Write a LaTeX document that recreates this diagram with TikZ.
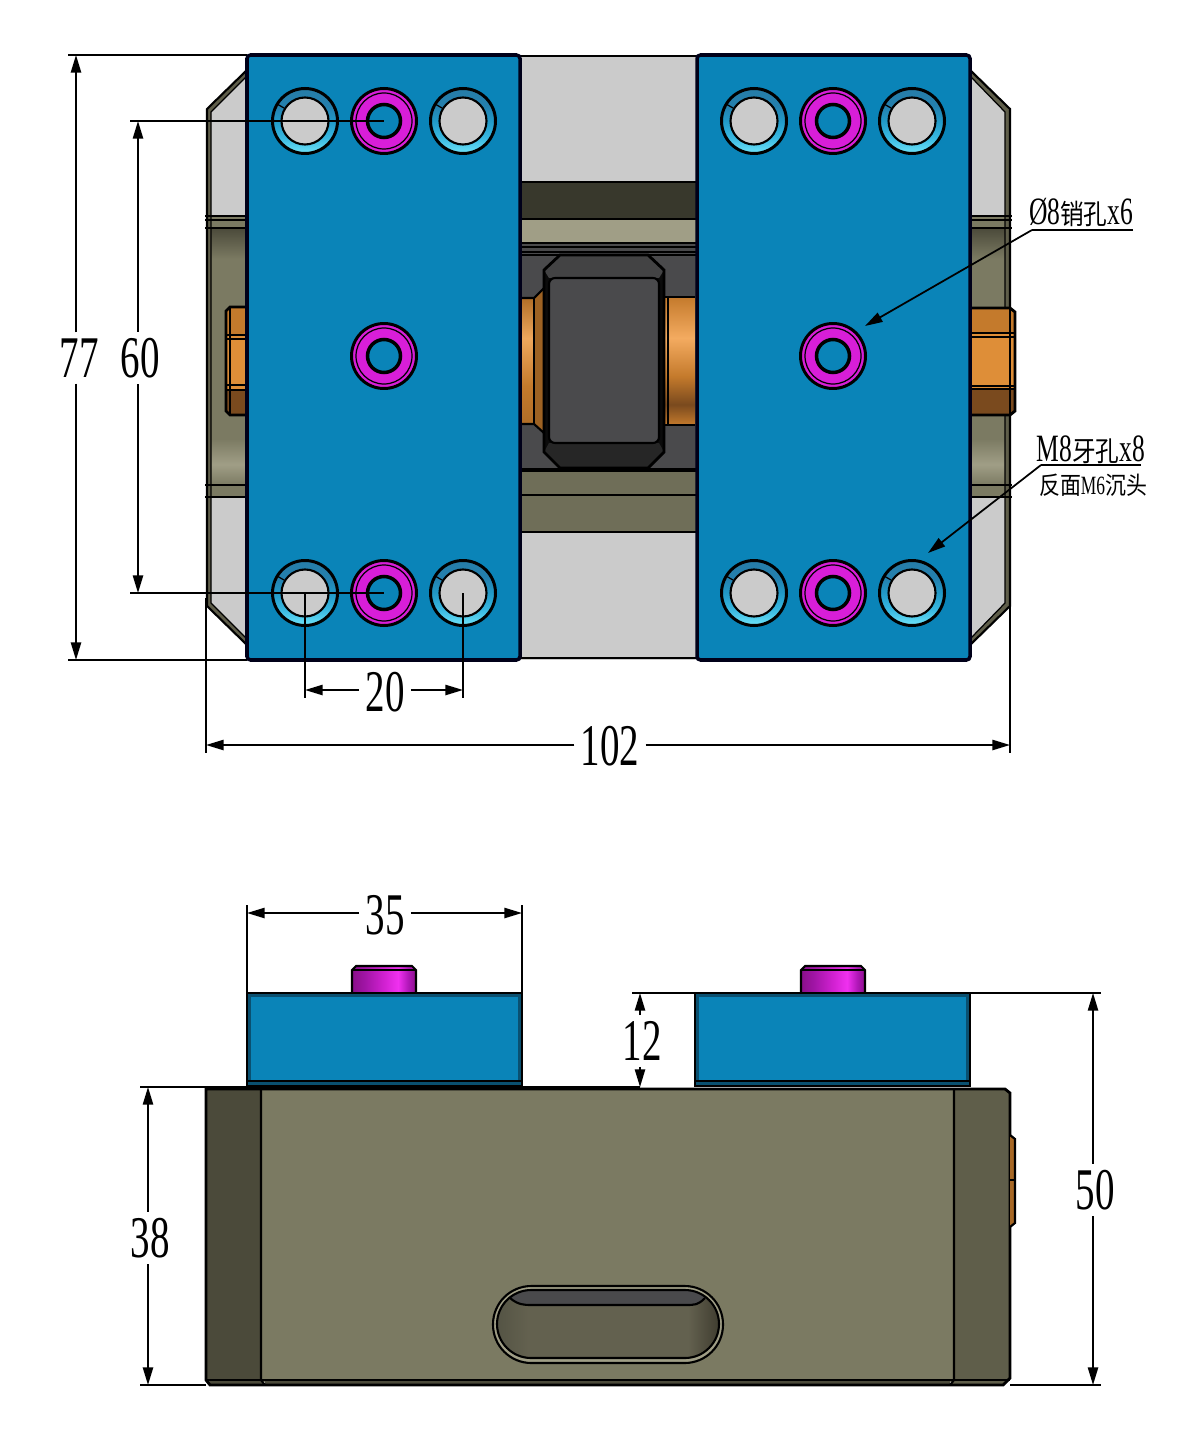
\documentclass[tikz,border=0pt]{standalone}
\usepackage{fontspec}
\setmainfont[FakeStretch=0.66]{Liberation Serif}
\newfontfamily\cjk[FakeStretch=0.85]{Noto Sans CJK SC}
\usetikzlibrary{arrows.meta,calc}
\definecolor{plateblue}{HTML}{0A84B8}
\definecolor{platedark}{HTML}{0A5070}
\definecolor{steelgray}{HTML}{CBCBCB}
\definecolor{olive}{HTML}{7B7A62}
\definecolor{olivedark}{HTML}{4B4A3A}
\definecolor{oliveside}{HTML}{5F5E4A}
\definecolor{olivestrip}{HTML}{A09E86}
\definecolor{pinmag}{HTML}{D81ED8}
\definecolor{blockgray}{HTML}{4A4A4C}
\definecolor{copperlow}{HTML}{7A4A1E}
\definecolor{coppermid}{HTML}{C47A2C}
\definecolor{copperhigh}{HTML}{DE8E38}
\pgfdeclareverticalshading{shaftright}{100bp}{
  color(0bp)=(coppermid);color(25bp)=(coppermid);color(33bp)=(copperlow);color(44bp)=(coppermid);
  color(59bp)=(orange!50!copperhigh!70!white);color(75bp)=(coppermid);color(100bp)=(coppermid)}
\pgfdeclareverticalshading{shaftleft}{100bp}{
  color(0bp)=(coppermid!90!black);color(25bp)=(coppermid!90!black);color(40bp)=(coppermid);
  color(59bp)=(orange!30!copperhigh!75!white);color(75bp)=(coppermid!90!black);color(100bp)=(coppermid!90!black)}
\pgfdeclareverticalshading{ringcol}{100bp}{
  rgb(0bp)=(0.42,0.88,0.97);rgb(25bp)=(0.42,0.88,0.97);rgb(37bp)=(0.22,0.72,0.88);
  rgb(50bp)=(0.13,0.60,0.78);rgb(62bp)=(0.14,0.50,0.68);rgb(75bp)=(0.15,0.49,0.66);rgb(100bp)=(0.15,0.49,0.66)}
\pgfdeclareverticalshading{bandcol}{100bp}{
  color(0bp)=(olive);color(25bp)=(olive);color(29bp)=(olivestrip);color(34bp)=(olive);color(69bp)=(olive);
  color(75bp)=(olivedark);color(100bp)=(olivedark)}
\pgfdeclarehorizontalshading{pincol}{100bp}{
  rgb(0bp)=(0.54,0.06,0.54);rgb(25bp)=(0.54,0.06,0.54);rgb(35bp)=(0.63,0.08,0.65);rgb(50bp)=(0.82,0.13,0.82);
  rgb(61bp)=(0.94,0.19,0.94);rgb(69bp)=(0.69,0.09,0.72);rgb(75bp)=(0.54,0.06,0.54);rgb(100bp)=(0.54,0.06,0.54)}
\pgfdeclarehorizontalshading{slotcol}{100bp}{
  rgb(0bp)=(0.33,0.33,0.27);rgb(25bp)=(0.33,0.33,0.27);rgb(32bp)=(0.39,0.38,0.31);rgb(68bp)=(0.39,0.38,0.31);
  rgb(75bp)=(0.25,0.24,0.19);rgb(100bp)=(0.25,0.24,0.19)}
\tikzset{
  edge/.style={draw=black,line width=0.6pt},
  thinedge/.style={draw=black,line width=0.35pt},
  plate/.style={fill=plateblue,draw=black!90!blue,line width=1pt,rounded corners=1pt},
  dimline/.style={draw=black,line width=0.5pt},
  dimarrow/.style={dimline,-{Triangle[length=5pt,width=2.9pt]}},
  dimtext/.style={font=\fontsize{16.8}{18}\selectfont,inner sep=1.6pt},
  notetext/.style={font=\fontsize{11}{12}\selectfont,inner sep=0pt},
  smalltext/.style={font=\fontsize{7.5}{9}\selectfont,inner sep=0pt}
}
\newcommand{\cnbig}[1]{{\fontsize{7.9}{9}\cjk #1}}
\newcommand{\cnsmall}[1]{{\fontsize{7}{9}\cjk #1}}
\newcommand{\greyhole}[2]{
  \fill[fill=plateblue] (#1,#2) circle (34);
  \shade[shading=ringcol] (#1,#2) circle (31.5);
  \draw[edge,line width=0.85pt] (#1,#2) circle (32.5);
  \fill[steelgray] (#1,#2) circle (23);
  \draw[edge] (#1,#2) circle (23.5);
  \draw[thinedge] ($(#1,#2)+(-21,-13)$) -- ($(#1,#2)+(-28,-17)$);
}
\newcommand{\pinhole}[2]{
  \fill[pinmag] (#1,#2) circle (32);
  \draw[edge,line width=0.85pt] (#1,#2) circle (32.5);
  \draw[thinedge] (#1,#2) circle (28);
  \fill[plateblue] (#1,#2) circle (16);
  \draw[edge,line width=1pt] (#1,#2) circle (16.5);
}
\begin{document}
\begin{tikzpicture}[x=0.01cm,y=-0.01cm]
\useasboundingbox (0,0) rectangle (1185,1446);
% top view, base
\fill[steelgray] (247,70) -- (207,109) -- (207,606) -- (247,645) -- (970,645) -- (1010,606) -- (1010,109) -- (970,70) -- cycle;
\fill[olive] (207,216) rectangle (247,498);
\fill[olive] (970,216) rectangle (1010,498);
\shade[shading=bandcol] (211,228) rectangle (247,485);
\shade[shading=bandcol] (970,228) rectangle (1005,485);
\fill[oliveside] (207,109) -- (247,70) -- (247,76) -- (211,112) -- (211,603) -- (247,639) -- (247,645) -- (207,606) -- cycle;
\fill[oliveside] (1010,109) -- (970,70) -- (970,76) -- (1005,112) -- (1005,603) -- (970,639) -- (970,645) -- (1010,606) -- cycle;
\draw[edge] (247,70) -- (207,109) -- (207,606) -- (247,645);
\draw[edge] (970,70) -- (1010,109) -- (1010,606) -- (970,645);
\draw[thinedge] (247,76) -- (211,112) -- (211,603) -- (247,639);
\draw[thinedge] (970,76) -- (1005,112) -- (1005,603) -- (970,639);
\foreach \yy in {216,220,228,485,497}{
  \draw[edge] (205,\yy) -- (247,\yy);
  \draw[edge] (970,\yy) -- (1012,\yy);
}
% side bolts
\fill[copperhigh] (247,307) -- (230,307) -- (226,311) -- (226,411) -- (230,415) -- (247,415) -- cycle;
\fill[copperhigh] (970,308) -- (1010,308) -- (1015,312) -- (1015,411) -- (1010,415) -- (970,415) -- cycle;
\fill[copperlow] (226,390) -- (247,390) -- (247,415) -- (230,415) -- (226,411) -- cycle;
\fill[copperlow] (970,389) -- (1015,389) -- (1015,411) -- (1010,415) -- (970,415) -- cycle;
\fill[coppermid] (970,308) -- (1010,308) -- (1015,312) -- (1015,333) -- (970,333) -- cycle;
\fill[coppermid] (226,311) -- (230,307) -- (247,307) -- (247,335) -- (226,335) -- cycle;
\draw[edge,line width=0.8pt] (247,307) -- (230,307) -- (226,311) -- (226,411) -- (230,415) -- (247,415);
\draw[edge,line width=0.8pt] (970,308) -- (1010,308) -- (1015,312) -- (1015,411) -- (1010,415) -- (970,415);
\draw[edge] (230,307) -- (230,415) (1010,308) -- (1010,415);
\foreach \yy in {335,339,385,390}{
  \draw[edge] (226,\yy) -- (247,\yy);
}
\foreach \yy in {333,337,386,389}{
  \draw[edge] (970,\yy) -- (1015,\yy);
}
% centre part
\fill[steelgray] (520,56) rectangle (697,660);
\fill[black!25!olivedark] (520,182) rectangle (697,219);
\fill[olivestrip] (520,220) rectangle (697,243);
\fill[blockgray] (520,243) rectangle (697,468);
\fill[olive!90!black] (520,472) rectangle (697,495);
\fill[olive!90!black] (520,495) rectangle (697,532);
\fill[black] (520,468) rectangle (697,472);
\foreach \yy in {182,219,243,247,252,255,495,532}{
  \draw[edge] (520,\yy) -- (697,\yy);
}
\draw[edge] (520,56) -- (697,56) (520,658) -- (697,658);
% shafts
\shade[shading=shaftleft] (522,298) rectangle (534,424);
\fill[coppermid!80!black] (534,298) -- (544,288) -- (544,433) -- (534,424) -- cycle;
\shade[shading=shaftright] (664,297) rectangle (695,425);
\draw[edge] (522,298) -- (534,298) -- (544,288) (522,424) -- (534,424) -- (544,433);
\draw[thinedge] (534,298) -- (534,424) (668,297) -- (668,425);
\draw[edge] (664,297) -- (695,297) (664,425) -- (695,425);
% centre block
\fill[black!85!blockgray] (560,255) -- (648,255) -- (664,270) -- (664,452) -- (648,468) -- (560,468) -- (544,452) -- (544,270) -- cycle;
\fill[blockgray!90!black] (560,255) -- (648,255) -- (664,270) -- (659,278) -- (549,278) -- (544,270) -- cycle;
\fill[black!85!white] (549,443) -- (659,443) -- (664,452) -- (648,468) -- (560,468) -- (544,452) -- cycle;
\draw[edge,line width=0.8pt] (560,255) -- (648,255) -- (664,270) -- (664,452) -- (648,468) -- (560,468) -- (544,452) -- (544,270) -- cycle;
\draw[edge,fill=blockgray,rounded corners=1.7pt] (549,278) rectangle (659,443);
% plates, top view
\draw[plate] (247,55) rectangle (520,660);
\draw[plate] (697,55) rectangle (970,660);
\foreach \xx in {305,463,754,912}{
  \foreach \yy in {121,593}{
    \greyhole{\xx}{\yy}
  }
}
\foreach \xx in {384,833}{
  \foreach \yy in {121,356,593}{
    \pinhole{\xx}{\yy}
  }
}
% front view, base
\fill[olive] (261,1089) rectangle (954,1382);
\fill[olivedark] (206,1089) -- (261,1089) -- (261,1380) -- (265,1385) -- (210,1385) -- (206,1380) -- cycle;
\fill[oliveside] (954,1089) -- (1005,1089) -- (1010,1093) -- (1010,1378) -- (1003,1385) -- (950,1385) -- (954,1380) -- cycle;
\fill[olivedark] (265,1380) rectangle (950,1385);
\draw[edge,line width=0.8pt] (206,1089) -- (1005,1089) -- (1010,1093) -- (1010,1378) -- (1003,1385) -- (210,1385) -- (206,1380) -- cycle;
\draw[edge] (261,1089) -- (261,1380) -- (265,1385) (954,1089) -- (954,1380) -- (950,1385);
\draw[edge] (206,1380) -- (1010,1380);
\fill[coppermid!85!black] (1010,1135) -- (1015,1139) -- (1015,1223) -- (1010,1227) -- cycle;
\draw[edge] (1010,1135) -- (1015,1139) -- (1015,1223) -- (1010,1227);
\draw[thinedge] (1010,1180) -- (1015,1180);
% slot
\draw[edge,fill=olivestrip,rounded corners=10.9pt] (493,1286) rectangle (723,1363);
\shade[shading=slotcol,rounded corners=9.7pt] (497,1290) rectangle (719,1358);
\fill[blockgray] (510,1298) .. controls (518,1305) and (525,1305) .. (531,1305) -- (685,1305) .. controls (695,1305) and (698,1305) .. (705,1298) .. controls (698,1292) and (695,1290) .. (685,1290) -- (531,1290) .. controls (525,1290) and (518,1292) .. (510,1298) -- cycle;
\draw[edge] (510,1298) .. controls (518,1305) and (525,1305) .. (531,1305) -- (685,1305) .. controls (695,1305) and (698,1305) .. (705,1298);
\draw[edge,rounded corners=9.7pt] (497,1290) rectangle (719,1358);
% pins and plates, front view
\foreach \xx in {352,801}{
  \shade[shading=pincol] (\xx,970) -- (\xx+4,966) -- (\xx+60,966) -- (\xx+64,970) -- (\xx+64,993) -- (\xx,993) -- cycle;
  \draw[edge] (\xx,993) -- (\xx,970) -- (\xx+4,966) -- (\xx+60,966) -- (\xx+64,970) -- (\xx+64,993);
  \draw[thinedge] (\xx,970) -- (\xx+64,970);
}
\foreach \xx/\xw in {247/522,695/970}{
  \fill[platedark] (\xx,993) rectangle (\xw,1086);
  \fill[plateblue] (\xx+4,997) rectangle (\xw-4,1081);
  \draw[edge,line width=0.8pt] (\xx,993) rectangle (\xw,1086);
  \draw[edge] (\xx,1081) -- (\xw,1081);
}
% dimensions
\node[dimtext] (dimAA) at (79,358) {77};
\node[dimtext] (dimAB) at (140,358) {60};
\node[dimtext] (dimAC) at (385,692) {20};
\node[dimtext] (dimAD) at (610,746) {102};
\node[dimtext] (dimBA) at (385,915) {35};
\node[dimtext] (dimBB) at (642,1041) {12};
\node[dimtext] (dimBC) at (1095,1190) {50};
\node[dimtext] (dimBD) at (150,1238) {38};
\coordinate (aat) at (76,55);
\coordinate (aab) at (76,660);
\coordinate (abt) at (138,121);
\coordinate (abb) at (138,593);
\coordinate (acl) at (305,690);
\coordinate (acr) at (463,690);
\coordinate (adl) at (206,745);
\coordinate (adr) at (1010,745);
\coordinate (bal) at (247,913);
\coordinate (bar) at (522,913);
\coordinate (bbt) at (640,993);
\coordinate (bbb) at (640,1087);
\coordinate (bct) at (1093,993);
\coordinate (bcb) at (1093,1385);
\coordinate (bdt) at (148,1087);
\coordinate (bdb) at (148,1385);
\draw[dimarrow] (aat |- dimAA.north) -- (aat);
\draw[dimarrow] (aab |- dimAA.south) -- (aab);
\draw[dimarrow] (abt |- dimAB.north) -- (abt);
\draw[dimarrow] (abb |- dimAB.south) -- (abb);
\draw[dimarrow] (acl -| dimAC.west) -- (acl);
\draw[dimarrow] (acr -| dimAC.east) -- (acr);
\draw[dimarrow] (adl -| dimAD.west) -- (adl);
\draw[dimarrow] (adr -| dimAD.east) -- (adr);
\draw[dimarrow] (bal -| dimBA.west) -- (bal);
\draw[dimarrow] (bar -| dimBA.east) -- (bar);
\draw[dimarrow] (bbt |- dimBB.north) -- (bbt);
\draw[dimarrow] (bbb |- dimBB.south) -- (bbb);
\draw[dimarrow] (bct |- dimBC.north) -- (bct);
\draw[dimarrow] (bcb |- dimBC.south) -- (bcb);
\draw[dimarrow] (bdt |- dimBD.north) -- (bdt);
\draw[dimarrow] (bdb |- dimBD.south) -- (bdb);
% extension lines
\draw[dimline] (68,55) -- (247,55) (68,660) -- (247,660);
\draw[dimline] (130,121) -- (384,121) (130,593) -- (384,593);
\draw[dimline] (305,593) -- (305,698) (463,593) -- (463,698);
\draw[dimline] (206,598) -- (206,753) (1010,598) -- (1010,753);
\draw[dimline] (247,905) -- (247,993) (522,905) -- (522,993);
\draw[dimline] (632,993) -- (1101,993);
\draw[dimline] (140,1087) -- (640,1087);
\draw[dimline] (140,1385) -- (206,1385) (1010,1385) -- (1101,1385);
% notes
\node[notetext] (noteA) at (1081,212) {Ø8\cnbig{销孔}x6};
\node[notetext] (noteB) at (1091,450) {M8\cnbig{牙孔}x8};
\node[smalltext] (noteC) at (1093,485) {\cnsmall{反面}M6\cnsmall{沉头}};
\coordinate (noteAl) at (1032,230);
\coordinate (noteAr) at (1133,230);
\coordinate (noteAp) at (865,326);
\coordinate (noteBl) at (1041,465);
\coordinate (noteBr) at (1141,465);
\coordinate (noteBp) at (928,553);
\draw[dimline] (noteAr) -- (noteAl);
\draw[dimarrow] (noteAl) -- (noteAp);
\draw[dimline] (noteBr) -- (noteBl);
\draw[dimarrow] (noteBl) -- (noteBp);
\end{tikzpicture}
\end{document}
